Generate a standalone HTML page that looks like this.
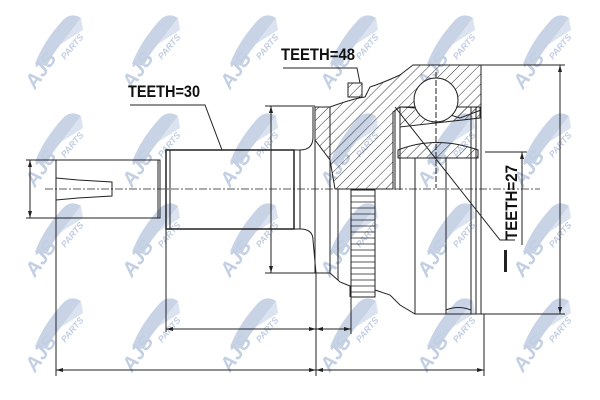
<!DOCTYPE html>
<html><head><style>
html,body{margin:0;padding:0;background:#fff;width:600px;height:400px;overflow:hidden}
svg{display:block}
.w{font-family:"Liberation Sans",sans-serif;font-weight:bold;font-style:italic;fill:#c3cfe3}
.l{font-family:"Liberation Sans Narrow","Liberation Sans",sans-serif;font-weight:bold;fill:#111}
</style></head><body>
<svg width="600" height="400" viewBox="0 0 600 400" xmlns="http://www.w3.org/2000/svg">
<defs>
<pattern id="h" width="7" height="7" patternUnits="userSpaceOnUse" patternTransform="rotate(45)">
<line x1="0" y1="0" x2="0" y2="7" stroke="#333" stroke-width="1"/></pattern>
<g id="wm">
<path d="M-20,12 Q-12,-10 8,-32 Q16,-40 26,-34 L6,-8 Q-4,4 -8,14 Z" fill="#c8d3e6"/>
<path d="M6,-8 L26,-34 L28,-22 Z" fill="#dbe3f0"/>
<text class="w" x="0" y="0" font-size="20" transform="translate(-20,38) rotate(-55)">AJS</text>
<text class="w" x="0" y="0" font-size="9" transform="translate(10,8) rotate(-50)">PARTS</text>
</g>
</defs>
<g>
<use href="#wm" x="55" y="52"/><use href="#wm" x="152" y="52"/><use href="#wm" x="250" y="52"/><use href="#wm" x="350" y="52"/><use href="#wm" x="447" y="52"/><use href="#wm" x="543" y="52"/>
<use href="#wm" x="55" y="150"/><use href="#wm" x="152" y="150"/><use href="#wm" x="250" y="150"/><use href="#wm" x="350" y="150"/><use href="#wm" x="447" y="150"/><use href="#wm" x="543" y="150"/>
<use href="#wm" x="55" y="240"/><use href="#wm" x="152" y="240"/><use href="#wm" x="250" y="240"/><use href="#wm" x="350" y="240"/><use href="#wm" x="447" y="240"/><use href="#wm" x="543" y="240"/>
<use href="#wm" x="55" y="335"/><use href="#wm" x="152" y="335"/><use href="#wm" x="250" y="335"/><use href="#wm" x="350" y="335"/><use href="#wm" x="447" y="335"/><use href="#wm" x="543" y="335"/>
</g>
<g fill="none" stroke="#222" stroke-width="1">
<line x1="45" y1="189" x2="540" y2="189" stroke-dasharray="8,2,2,2" stroke-width="0.8"/>
<rect x="56" y="160" width="104" height="58"/>
<line x1="158" y1="160" x2="158" y2="218"/>
<path d="M56,178 L78,180 L112,182 L112,196 L78,198 L56,200"/>
<rect x="166" y="150" width="128" height="79" stroke-width="1.5"/>
<line x1="170" y1="150" x2="170" y2="229"/>
<rect x="294" y="150" width="6" height="79"/>
<path d="M300,150 Q313,150 313,137 L313,107"/>
<path d="M300,229 Q313,229 313,240 L316,273"/>
<path d="M315,107 L330,107 Q355,98 365,97 L370,87 Q385,82 400,75 L413,65 L481,65 L481,110 L460,118 Q430,108 400,107 L393,112 L393,189 L335,189 L330,160 L315,140 Z" fill="url(#h)"/>
<path d="M400,107 L480,107 L480,118 L400,127 Z" fill="url(#h)"/>
<path d="M398,150 Q436,135 478,150 L478,158 L398,158 Z" fill="url(#h)"/>
<rect x="348" y="83" width="14" height="14" fill="url(#h)"/>
<circle cx="436" cy="100" r="22" fill="#fff"/>
<line x1="436" y1="72" x2="436" y2="188" stroke-dasharray="6,2"/>
<path d="M315,107 L315,273 L330,273 L340,282 L350,286 L350,297"/>
<path d="M375,290 L390,295 L400,305 L415,314 L481,314 L481,65"/>
<line x1="330" y1="107" x2="330" y2="273"/>
<line x1="338" y1="189" x2="338" y2="280"/>
<line x1="395" y1="110" x2="395" y2="190"/>
<line x1="400" y1="107" x2="400" y2="190"/>
<line x1="415" y1="158" x2="415" y2="314"/>
<line x1="446" y1="158" x2="446" y2="314"/>
<line x1="471" y1="107" x2="471" y2="314"/>
<line x1="476" y1="107" x2="476" y2="314"/>
<line x1="398" y1="158" x2="478" y2="158"/>
<path d="M446,310 Q458,305 471,310"/>
<rect x="351" y="190" width="24" height="107"/>
<path d="M351,196 H375 M351,202 H375 M351,208 H375 M351,214 H375 M351,220 H375 M351,226 H375 M351,232 H375 M351,238 H375 M351,244 H375 M351,250 H375 M351,256 H375 M351,262 H375 M351,268 H375 M351,274 H375 M351,280 H375 M351,286 H375 M351,292 H375" stroke-width="0.8"/>
<line x1="26" y1="160" x2="56" y2="160"/><line x1="26" y1="218" x2="56" y2="218"/>
<line x1="30" y1="160" x2="30" y2="218"/>
<line x1="265" y1="106" x2="315" y2="106"/><line x1="265" y1="273" x2="319" y2="273"/>
<line x1="271" y1="106" x2="271" y2="273"/>
<line x1="481" y1="65" x2="565" y2="65"/><line x1="481" y1="314" x2="565" y2="314"/>
<line x1="560" y1="65" x2="560" y2="314"/>
<line x1="56" y1="218" x2="56" y2="376"/><line x1="166" y1="229" x2="166" y2="332"/>
<line x1="316" y1="273" x2="316" y2="376"/><line x1="351" y1="297" x2="351" y2="334"/>
<line x1="484" y1="314" x2="484" y2="376"/>
<line x1="166" y1="329" x2="351" y2="329"/>
<line x1="56" y1="370" x2="484" y2="370"/>
<polyline points="130,105 205,105 222,150"/>
<polyline points="283,68 357,68 360,83"/>
<polyline points="395,107 500,240 515,240"/>
<line x1="485" y1="152" x2="527" y2="152"/>
<line x1="522" y1="152" x2="522" y2="245"/>
</g>
<g fill="#222">
<path d="M30,160 l-2,7 h4z M30,218 l-2,-7 h4z"/>
<path d="M271,106 l-2,7 h4z M271,273 l-2,-7 h4z"/>
<path d="M560,65 l-2,7 h4z M560,314 l-2,-7 h4z"/>
<path d="M166,329 l7,-2 v4z M316,329 l-7,-2 v4z M316,329 l7,-2 v4z M351,329 l-7,-2 v4z"/>
<path d="M56,370 l7,-2 v4z M316,370 l-7,-2 v4z M316,370 l7,-2 v4z M484,370 l-7,-2 v4z"/>
<path d="M522,152 l-2,7 h4z"/>
<rect x="504" y="250" width="3" height="22"/>
</g>
<text class="l" x="128" y="97" font-size="17" textLength="72" lengthAdjust="spacingAndGlyphs">TEETH=30</text>
<text class="l" x="281" y="60" font-size="17" textLength="74" lengthAdjust="spacingAndGlyphs">TEETH=48</text>
<text class="l" x="0" y="0" font-size="17" textLength="75" lengthAdjust="spacingAndGlyphs" transform="translate(517,240) rotate(-90)">TEETH=27</text>
</svg>
</body></html>
